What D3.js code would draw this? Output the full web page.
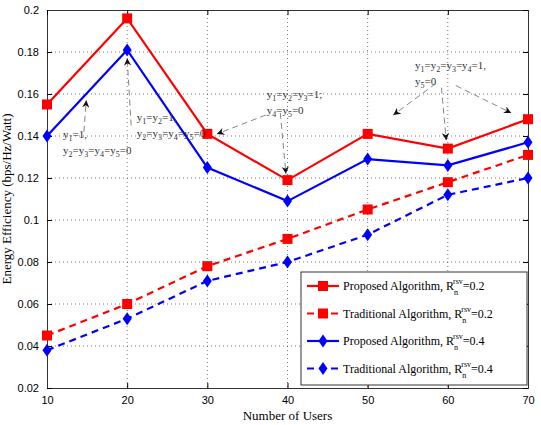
<!DOCTYPE html>
<html><head><meta charset="utf-8">
<script src="https://cdn.jsdelivr.net/npm/d3@7"></script>
<style>
body{margin:0;background:#fff;font-family:"Liberation Serif",serif;}
.grid line{stroke:#555;stroke-dasharray:1,3;stroke-width:0.8}
.axis text{font-size:11px;font-family:"Liberation Sans",sans-serif}
.ann{font-size:11px;fill:#333}
</style></head><body>
<svg id="chart" width="541" height="425"></svg>
<script>
const users = [10, 20, 30, 40, 50, 60, 70];
const propA02 = [0.155, 0.196, 0.141, 0.119, 0.141, 0.134, 0.148];
const tradA02 = [0.045, 0.060, 0.078, 0.091, 0.105, 0.118, 0.131];
const propA04 = [0.140, 0.181, 0.125, 0.109, 0.129, 0.126, 0.137];
const tradA04 = [0.038, 0.053, 0.071, 0.080, 0.093, 0.112, 0.120];
const yTicks = [0.02, 0.04, 0.06, 0.08, 0.1, 0.12, 0.14, 0.16, 0.18, 0.2];

const margin = {top: 10, right: 13, bottom: 37, left: 47},
    width = 541 - margin.left - margin.right,
    height = 425 - margin.top - margin.bottom;

const svg = d3.select("#chart").append("g")
    .attr("transform", "translate(" + margin.left + "," + margin.top + ")");

const x = d3.scaleLinear().domain([10, 70]).range([0, width]);
const y = d3.scaleLinear().domain([0.02, 0.2]).range([height, 0]);

const defs = svg.append("defs");
defs.append("marker").attr("id", "arr").attr("viewBox", "0 0 10 10")
    .attr("refX", 10).attr("refY", 5).attr("markerWidth", 9).attr("markerHeight", 9)
    .attr("orient", "auto-start-reverse")
    .append("path").attr("d", "M0,0 L10,5 L0,10 L3,5 Z").attr("fill", "#111");

// grid
const grid = svg.append("g").attr("class", "grid");
grid.selectAll(".gx").data(users.slice(1, -1)).enter().append("line")
    .attr("x1", d => x(d)).attr("x2", d => x(d)).attr("y1", 0).attr("y2", height);
grid.selectAll(".gy").data(yTicks.slice(1, -1)).enter().append("line")
    .attr("x1", 0).attr("x2", width).attr("y1", d => y(d)).attr("y2", d => y(d));

svg.append("g").attr("class", "axis").attr("transform", "translate(0," + height + ")")
    .call(d3.axisBottom(x).tickValues(users).tickSize(-5).tickPadding(8));
svg.append("g").attr("class", "axis")
    .call(d3.axisLeft(y).tickValues(yTicks).tickFormat(d3.format("~g")).tickSize(-5).tickPadding(8));
svg.append("g").call(d3.axisTop(x).tickValues(users).tickSize(-5).tickFormat(""));
svg.append("g").attr("transform", "translate(" + width + ",0)")
    .call(d3.axisRight(y).tickValues(yTicks).tickSize(-5).tickFormat(""));
svg.selectAll(".domain").attr("stroke", "#333");

svg.append("text").attr("x", width / 2).attr("y", height + 32).attr("text-anchor", "middle")
    .style("font-size", "13px").text("Number of Users");
svg.append("text").attr("transform", "rotate(-90)").attr("x", -height / 2).attr("y", -36)
    .attr("text-anchor", "middle").style("font-size", "13px").text("Energy Efficiency (bps/Hz/Watt)");

const series = [
    {vals: propA02, color: "#f00", dash: null, shape: "sq", label: "Proposed Algorithm, R", val: "=0.2"},
    {vals: tradA02, color: "#f00", dash: "7,5", shape: "sq", label: "Traditional Algorithm, R", val: "=0.2"},
    {vals: propA04, color: "#00f", dash: null, shape: "di", label: "Proposed Algorithm, R", val: "=0.4"},
    {vals: tradA04, color: "#00f", dash: "7,5", shape: "di", label: "Traditional Algorithm, R", val: "=0.4"}
];

const line = d3.line().x((d, i) => x(users[i])).y(d => y(d));
function marker(g, shape, color) {
    if (shape === "sq") g.append("rect").attr("x", -5).attr("y", -5).attr("width", 10).attr("height", 10).attr("fill", color);
    else g.append("path").attr("d", "M0,-6.5 L4.5,0 L0,6.5 L-4.5,0 Z").attr("fill", color);
}
series.forEach(s => {
    svg.append("path").datum(s.vals).attr("d", line).attr("fill", "none")
        .attr("stroke", s.color).attr("stroke-width", 2.2).attr("stroke-dasharray", s.dash);
    s.vals.forEach((v, i) => marker(svg.append("g").attr("transform", "translate(" + x(users[i]) + "," + y(v) + ")"), s.shape, s.color));
});

// annotations: each line is "y" + subscript pairs, e.g. [["1","=1,"]]
function ann(lines, tx, ty) {
    lines.forEach((l, k) => {
        const t = svg.append("text").attr("class", "ann").attr("x", x(tx)).attr("y", y(ty) + k * 16);
        l.forEach(p => {
            t.append("tspan").attr("dy", t.node().childNodes.length ? -3 : 0).text("y");
            t.append("tspan").attr("dy", 3).style("font-size", "8px").text(p[0]);
            t.append("tspan").attr("dy", -3).text(p[1]).attr("dy", -3);
            t.selectAll("tspan").filter(function(d, i, n) { return false; });
        });
    });
}
// simpler, explicit baseline handling
function ann2(lines, tx, ty) {
    lines.forEach((l, k) => {
        const t = svg.append("text").attr("class", "ann").attr("x", x(tx)).attr("y", y(ty) + k * 16);
        l.forEach(p => {
            t.append("tspan").text("y");
            t.append("tspan").attr("dy", 3).style("font-size", "8px").text(p[0]);
            t.append("tspan").attr("dy", -3).text(p[1]);
        });
    });
}
function arrow(x1, y1, x2, y2) {
    svg.append("line").attr("x1", x(x1)).attr("y1", y(y1)).attr("x2", x(x2)).attr("y2", y(y2))
        .attr("stroke", "#666").attr("stroke-width", 0.8).attr("stroke-dasharray", "6,4")
        .attr("marker-end", "url(#arr)");
}
ann2([[["1", "=1,"]], [["2", "="], ["3", "="], ["4", "="], ["5", "=0"]]], 12, 0.139);
arrow(14.6, 0.142, 14.9, 0.157);
ann2([[["1", "="], ["2", "=1,"]], [["2", "="], ["3", "="], ["4", "="], ["5", "=0"]]], 21.2, 0.147);
arrow(20.5, 0.145, 20, 0.177);
ann2([[["1", "="], ["2", "="], ["3", "=1;"]], [["4", "="], ["5", "=0"]]], 37.4, 0.158);
arrow(37.3, 0.150, 31.2, 0.141);
arrow(39.1, 0.151, 39.8, 0.122);
ann2([[["1", "="], ["2", "="], ["3", "="], ["4", "=1,"]], [["5", "=0"]]], 55.9, 0.172);
arrow(58.5, 0.165, 53.2, 0.150);
arrow(59.2, 0.163, 59.8, 0.138);
arrow(61, 0.164, 67.9, 0.151);

// legend
const lg = svg.append("g").attr("transform", "translate(" + (width - 227) + "," + (height - 116) + ")");
lg.append("rect").attr("width", 226).attr("height", 113).attr("fill", "#fff").attr("stroke", "#333");
series.forEach((s, i) => {
    const gy = 14 + i * 27.5;
    lg.append("line").attr("x1", 6).attr("x2", 38).attr("y1", gy).attr("y2", gy)
        .attr("stroke", s.color).attr("stroke-width", 2.2).attr("stroke-dasharray", s.dash);
    marker(lg.append("g").attr("transform", "translate(22," + gy + ")"), s.shape, s.color);
    const t = lg.append("text").attr("x", 42).attr("y", gy + 4).style("font-size", "12px");
    t.append("tspan").text(s.label);
    t.append("tspan").attr("dy", 5).style("font-size", "8px").text("n");
    t.append("tspan").attr("dy", -11).attr("dx", -5).style("font-size", "8px").text("rsv");
    t.append("tspan").attr("dy", 6).text(s.val);
});
</script></body></html>
